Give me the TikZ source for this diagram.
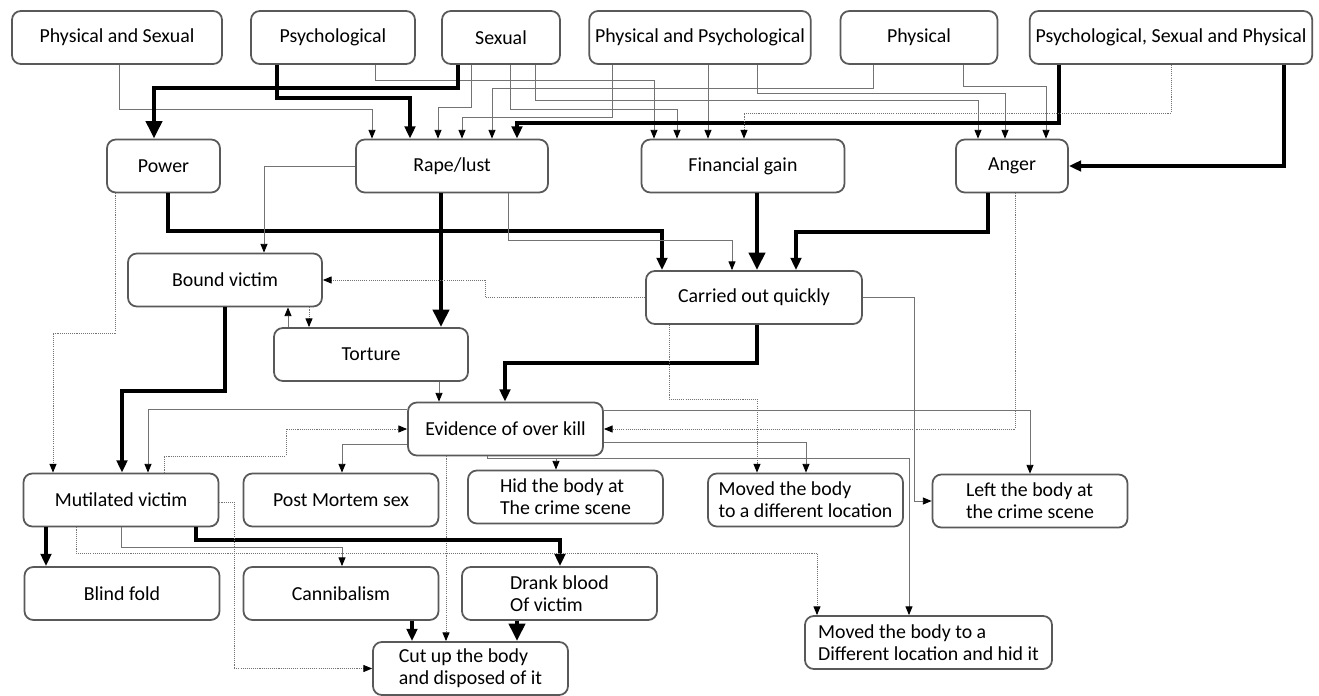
\documentclass[tikz,border=0pt]{standalone}
\usepackage{fontspec}
\setmainfont{Carlito}
\usetikzlibrary{arrows.meta}

\begin{document}
\begin{tikzpicture}[x=0.02cm,y=-0.02cm,
    box/.style={draw=black!65,line width=1pt,rounded corners=5pt,fill=white,
        minimum height=1.06cm,minimum width=3.9cm,align=left,
        font=\fontsize{11.3}{12.5}\selectfont},
    thinline/.style={draw=black!55,line width=0.5pt,-{Triangle[length=5pt,width=4pt,color=black]}},
    dotline/.style={draw=black!55,line width=0.55pt,dash pattern=on 0.6pt off 0.6pt,
        -{Triangle[length=5pt,width=4pt,color=black]}},
    thickline/.style={draw=black,line width=1.8pt,-{Triangle[length=7pt,width=6pt]}},
    heavyline/.style={draw=black,line width=2.6pt,-{Triangle[length=10pt,width=9pt]}}]
    \useasboundingbox (0,0) rectangle (1319,696);

    % kinds of abuse
    \node[box,minimum width=4.2cm] (physsex) at (117,37.5) {Physical and Sexual};
    \node[box,minimum width=3.28cm] (psych) at (333,37.5) {Psychological};
    \node[box,minimum width=2.36cm] (sexual) at (501,37.5) {Sexual};
    \node[box,minimum width=4.38cm] (physpsych) at (700,37.5) {Physical and Psychological};
    \node[box,minimum width=3.14cm] (physical) at (919,37.5) {Physical};
    \node[box,minimum width=5.64cm] (psp) at (1171,37.5) {Psychological, Sexual and Physical};

    % motives
    \node[box,minimum width=2.26cm] (power) at (163.5,166) {Power};
    \node[box,minimum width=3.84cm] (rape) at (452,166) {Rape/lust};
    \node[box,minimum width=4.06cm] (fingain) at (743,166) {Financial gain};
    \node[box,minimum width=2.24cm] (anger) at (1012,166) {Anger};

    \node[box,minimum width=3.88cm] (bound) at (225,280) {Bound victim};
    \node[box,minimum width=4.32cm] (carried) at (754,297.5) {Carried out quickly};
    \node[box,minimum width=3.88cm] (torture) at (371,354.5) {Torture};
    \node[box] (evidence) at (505.5,429) {Evidence of over kill};

    % outcomes
    \node[box] (mutil) at (121,500) {Mutilated victim};
    \node[box] (postm) at (341,500) {Post Mortem sex};
    \node[box] (hid) at (565.5,497) {Hid the body at\\The crime scene};
    \node[box] (moved1) at (805.5,500) {Moved the body\\to a different location};
    \node[box] (left) at (1030,501) {Left the body at\\the crime scene};
    \node[box] (blind) at (122,593.5) {Blind fold};
    \node[box] (cannib) at (341,593.5) {Cannibalism};
    \node[box] (drank) at (559.5,593.5) {Drank blood\\Of victim};
    \node[box,minimum width=4.94cm] (moved2) at (928.5,642.5) {Moved the body to a\\Different location and hid it};
    \node[box] (cutup) at (470.5,668.5) {Cut up the body\\and disposed of it};

    % abuse -> motive
    \draw[thinline] (physsex.south -| 119,0) |- (372,109) -- (372,109 |- rape.north);
    \draw[thickline] (psych.south -| 277,0) |- (410,98) -- (410,98 |- rape.north);
    \draw[thinline] (psych.south -| 375,0) |- (654,80) -- (654,80 |- fingain.north);
    \draw[heavyline] (sexual.south -| 458,0) |- (154,88) -- (154,88 |- power.north);
    \draw[thinline] (sexual.south -| 471,0) |- (438,107) -- (438,107 |- rape.north);
    \draw[thinline] (sexual.south -| 510,0) |- (677,109) -- (677,109 |- fingain.north);
    \draw[thinline] (sexual.south -| 535,0) |- (978,100) -- (978,100 |- anger.north);
    \draw[thinline] (physpsych.south -| 612,0) |- (462,117) -- (462,117 |- rape.north);
    \draw[thinline] (physpsych.south -| 708,0) -- (708,0 |- fingain.north);
    \draw[thinline] (physpsych.south -| 757,0) |- (1005,93) -- (1005,93 |- anger.north);
    \draw[thinline] (physical.south -| 873,0) |- (492,88) -- (492,88 |- rape.north);
    \draw[thinline] (physical.south -| 963,0) |- (1046,86) -- (1046,86 |- anger.north);
    \draw[thickline] (psp.south -| 1059,0) |- (517,123) -- (517,123 |- rape.north);
    \draw[dotline] (psp.south -| 1171,0) |- (744,113) -- (744,113 |- fingain.north);
    \draw[thickline] (psp.south -| 1284,0) |- (anger.east);

    % motive -> method
    \draw[thickline] (power.south -| 168,0) |- (662,231) -- (662,231 |- carried.north);
    \draw[dotline] (power.south -| 115,0) |- (53,333) -- (53,333 |- mutil.north);
    \draw[thinline] (rape.west) -| (264,0 |- bound.north);
    \draw[heavyline] (rape.south -| 441,0) -- (441,0 |- torture.north);
    \draw[thinline] (rape.south -| 508,0) |- (732,240) -- (732,240 |- carried.north);
    \draw[heavyline] (fingain.south -| 757,0) -- (757,0 |- carried.north);
    \draw[thickline] (anger.south -| 988,0) |- (796,232) -- (796,232 |- carried.north);
    \draw[dotline] (anger.south -| 1015,0) |- (evidence.east);
    \draw[dotline] (carried.west) -| (485,280) -- (bound.east);
    \draw[thinline] (torture.north -| 288,0) -- (288,0 |- bound.south);
    \draw[dotline] (bound.south -| 309,0) -- (309,0 |- torture.north);
    \draw[thickline] (bound.south) |- (122,391) -- (122,391 |- mutil.north);
    \draw[thinline] (torture.south -| 439,0) -- (439,0 |- evidence.north);
    \draw[thickline] (carried.south -| 757,0) |- (505,363) -- (505,363 |- evidence.north);
    \draw[dotline] (carried.south -| 669,0) |- (757,399) -- (757,399 |- moved1.north);
    \draw[thinline] (carried.east) -| (914,501) -- (left.west);

    % evidence of over kill
    \draw[thinline] (evidence.west |- 0,409) -| (148,0 |- mutil.north);
    \draw[dotline] (mutil.north -| 164,0) |- (286,456) |- (evidence.west);
    \draw[thinline] (evidence.west |- 0,444) -| (342,0 |- postm.north);
    \draw[thinline] (evidence.south -| 487,0) |- (556,458) -- (556,458 |- hid.north);
    \draw[thinline] (evidence.south -| 487,0) |- (909,458) -- (909,458 |- moved2.north);
    \draw[thinline] (evidence.east |- 0,442) -| (806,0 |- moved1.north);
    \draw[thinline] (evidence.east |- 0,410) -| (1030,0 |- left.north);
    \draw[dotline] (evidence.south -| 446,0) -- (446,0 |- cutup.north);

    % mutilated victim
    \draw[thickline] (mutil.south -| 46,0) -- (46,0 |- blind.north);
    \draw[thickline] (mutil.south -| 196,0) |- (560,540) -- (560,540 |- drank.north);
    \draw[thinline] (mutil.south -| 121,0) |- (342,547) -- (342,547 |- cannib.north);
    \draw[dotline] (mutil.south -| 76,0) |- (817,553) -- (817,553 |- moved2.north);
    \draw[dotline] (mutil.east |- 0,502) -| (234,668.5) -- (cutup.west);
    \draw[thickline] (cannib.south -| 412,0) -- (412,0 |- cutup.north);
    \draw[heavyline] (drank.south -| 517,0) -- (517,0 |- cutup.north);
\end{tikzpicture}
\end{document}
